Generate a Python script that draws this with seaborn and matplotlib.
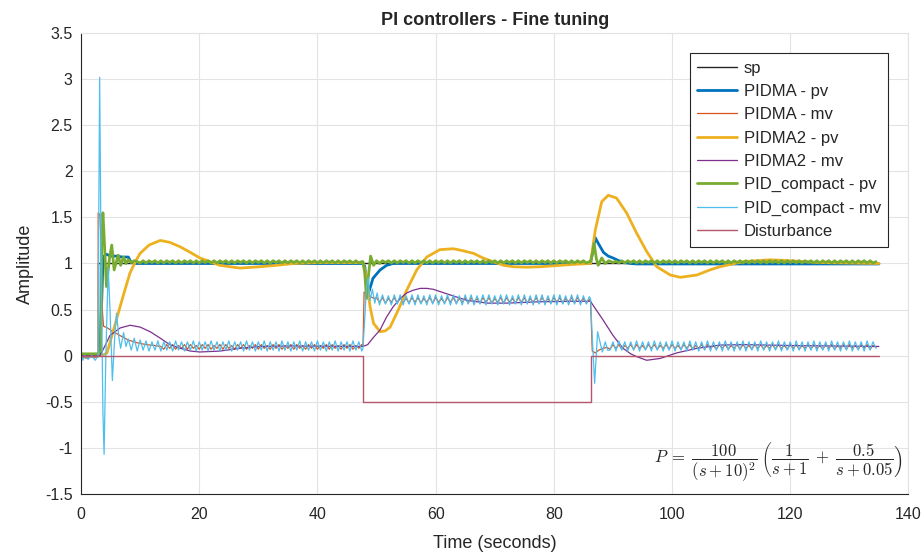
import numpy as np
import pandas as pd
import matplotlib
matplotlib.use("Agg")
import matplotlib.pyplot as plt
import seaborn as sns

# ---- data (time in s, amplitude) ----
sp_pts = [(0, 0.0), (2.9, 0.0), (2.9, 1.0), (135, 1.0)]
dist_pts = [(0, 0.0), (47.7, 0.0), (47.7, -0.5), (86.2, -0.5), (86.2, 0.0), (135, 0.0)]

pidma_pv_pts = [(0, 0.0), (3.2, 0.0), (3.5, 0.6), (3.7, 1.0), (3.9, 1.08), (4.3, 1.1), (5, 1.08),
                (6, 1.08), (7, 1.07), (8, 1.07), (8.4, 1.02), (9, 1.0), (47.7, 1.0), (48.0, 0.97),
                (48.4, 0.75), (48.7, 0.69), (49.4, 0.84), (50.6, 0.93), (51.7, 0.98), (52.8, 1.0),
                (86.2, 1.0), (86.5, 1.1), (87.0, 1.28), (87.5, 1.22), (88.4, 1.12), (89.2, 1.08),
                (90, 1.06), (91, 1.03), (92, 1.01), (93, 1.0), (94, 0.995), (135, 0.995)]

pidma2_pv_pts = [(0, 0.0), (3.5, 0.0), (4.4, 0.03), (5.5, 0.28), (6.6, 0.53), (7.5, 0.73), (8.3, 0.9),
                 (9.2, 1.02), (10, 1.11), (11.5, 1.2), (13.4, 1.25), (15, 1.23), (16.8, 1.18),
                 (18.5, 1.12), (20.1, 1.06), (23.5, 0.98), (26.9, 0.95), (30.3, 0.965), (33, 0.98),
                 (36, 1.0), (40, 1.01), (44, 1.01), (47.7, 1.01), (48.3, 0.85), (48.9, 0.53),
                 (49.5, 0.35), (50.6, 0.26), (51.5, 0.27), (52.3, 0.31), (53.7, 0.5), (55.1, 0.71),
                 (56.8, 0.93), (58.5, 1.07), (60.7, 1.15), (63, 1.16), (64.5, 1.14), (66.4, 1.11),
                 (68, 1.06), (69.7, 1.02), (71.5, 0.98), (73.1, 0.965), (75.5, 0.96), (77.7, 0.965),
                 (80, 0.975), (83.3, 0.99), (86.2, 1.0), (87, 1.36), (88.1, 1.67), (89.2, 1.74),
                 (90.6, 1.71), (92.3, 1.55), (94, 1.33), (95.7, 1.13), (97.4, 0.965), (99.7, 0.875),
                 (101.4, 0.85), (104.2, 0.875), (106.4, 0.93), (108.1, 0.965), (112, 1.02),
                 (116.6, 1.04), (120, 1.03), (125, 1.01), (135, 1.0)]

pidma2_mv_pts = [(0, 0.0), (3.2, 0.0), (4.0, 0.1), (4.9, 0.22), (6.6, 0.30), (8.3, 0.33), (10, 0.31),
                 (11.7, 0.26), (13.4, 0.19), (15, 0.12), (16.8, 0.08), (18.5, 0.05), (20.1, 0.04),
                 (23.5, 0.05), (26.9, 0.08), (30.3, 0.1), (35, 0.105), (47.7, 0.1), (48.5, 0.12),
                 (49.5, 0.2), (50.6, 0.28), (51.7, 0.42), (52.8, 0.53), (54, 0.62), (55.1, 0.68),
                 (56.2, 0.71), (57.4, 0.73), (58.5, 0.73), (59.6, 0.72), (61, 0.69), (62.4, 0.66),
                 (65.3, 0.60), (68.7, 0.57), (72, 0.57), (77.7, 0.585), (83.3, 0.59), (86.2, 0.59),
                 (86.6, 0.55), (88.3, 0.39), (90, 0.22), (91.7, 0.08), (93, 0.02), (94, -0.01),
                 (95.7, -0.05), (98, -0.03), (100.8, 0.03), (104.2, 0.08), (108.1, 0.115),
                 (112, 0.12), (120, 0.11), (135, 0.1)]

# PID_compact pv: transients plus small ripple sampled every 0.5 s
pidc_pv_start = [(0, 0.02), (2.9, 0.02), (3.3, 0.05), (3.5, 1.2), (3.7, 1.55), (3.9, 1.3),
                 (4.3, 0.75), (4.8, 1.05), (5.2, 1.2), (5.6, 0.93), (6.3, 1.09), (6.7, 0.98),
                 (7.2, 1.07), (7.6, 1.0), (8.0, 1.04), (8.5, 1.01), (9, 1.03), (9.5, 1.02)]
pidc_pv_rip_a = [1.005, 1.03, 1.005, 1.03, 1.01, 1.03, 1.005, 1.03, 1.005, 1.03,
                 1.01, 1.03, 1.005, 1.03, 1.005, 1.03, 1.01, 1.03, 1.005, 1.03,
                 1.005, 1.03, 1.01, 1.03, 1.005, 1.03, 1.005, 1.03, 1.01, 1.03,
                 1.005, 1.03, 1.005, 1.03, 1.01, 1.03, 1.005, 1.03, 1.005, 1.03,
                 1.01, 1.03, 1.005, 1.03, 1.005, 1.03, 1.01, 1.03, 1.005, 1.03,
                 1.005, 1.03, 1.01, 1.03, 1.005, 1.03, 1.005, 1.03, 1.01, 1.03,
                 1.005, 1.03, 1.005, 1.03, 1.01, 1.03, 1.005, 1.03, 1.005, 1.03,
                 1.01, 1.03, 1.005, 1.03, 1.005, 1.02]
pidc_pv_mid = [(47.7, 1.02), (48.0, 0.9), (48.3, 0.62), (48.6, 0.85), (49.0, 1.08), (49.5, 0.98),
               (50, 1.03), (50.5, 1.0), (51, 1.03), (51.5, 1.01)]
pidc_pv_rip_b = [1.03, 1.005, 1.03, 1.005, 1.03, 1.01, 1.03, 1.005, 1.03, 1.005,
                 1.03, 1.01, 1.03, 1.005, 1.03, 1.005, 1.03, 1.01, 1.03, 1.005,
                 1.03, 1.005, 1.03, 1.01, 1.03, 1.005, 1.03, 1.005, 1.03, 1.01,
                 1.03, 1.005, 1.03, 1.005, 1.03, 1.01, 1.03, 1.005, 1.03, 1.005,
                 1.03, 1.01, 1.03, 1.005, 1.03, 1.005, 1.03, 1.01, 1.03, 1.005,
                 1.03, 1.005, 1.03, 1.01, 1.03, 1.005, 1.03, 1.005, 1.03, 1.01,
                 1.03, 1.005, 1.03, 1.005, 1.03, 1.01, 1.03, 1.005, 1.02]
pidc_pv_end = [(86.2, 1.02), (86.5, 1.1), (86.8, 1.22), (87.2, 1.05), (87.5, 0.98), (88.1, 1.06),
               (88.7, 1.0), (89.3, 1.03), (90, 1.01), (90.5, 1.025)]
pidc_pv_rip_c = [1.005, 1.03, 1.005, 1.03, 1.01, 1.03, 1.005, 1.03, 1.005, 1.03,
                 1.01, 1.03, 1.005, 1.03, 1.005, 1.03, 1.01, 1.03, 1.005, 1.03,
                 1.005, 1.03, 1.01, 1.03, 1.005, 1.03, 1.005, 1.03, 1.01, 1.03,
                 1.005, 1.03, 1.005, 1.03, 1.01, 1.03, 1.005, 1.03, 1.005, 1.03,
                 1.01, 1.03, 1.005, 1.03, 1.005, 1.03, 1.01, 1.03, 1.005, 1.03,
                 1.005, 1.03, 1.01, 1.03, 1.005, 1.03, 1.005, 1.03, 1.01, 1.03,
                 1.005, 1.03, 1.005, 1.03, 1.01, 1.03, 1.005, 1.03, 1.005, 1.03,
                 1.01, 1.03, 1.005, 1.03, 1.005, 1.03, 1.01, 1.03, 1.005, 1.03,
                 1.005, 1.03, 1.01, 1.03, 1.005, 1.03, 1.005, 1.02]

# PIDMA mv: transients plus ripple segments sampled every 0.5 s
pidma_mv_start = [(0, -0.01), (1, -0.03), (1.5, 0.0), (2, -0.02), (2.9, -0.01), (2.9, 1.55),
                  (3.2, 1.52), (3.4, 1.2), (3.6, 0.5), (3.8, 0.32), (4.5, 0.3), (5.4, 0.26),
                  (6, 0.24), (7.1, 0.2), (8, 0.17), (9.5, 0.14), (11, 0.12), (12.5, 0.11), (13.5, 0.1)]
pidma_mv_rip_a = [0.07, 0.12, 0.08, 0.12, 0.07, 0.11, 0.08, 0.12, 0.07, 0.12,
                  0.08, 0.11, 0.07, 0.12, 0.08, 0.12, 0.07, 0.11, 0.08, 0.12,
                  0.07, 0.12, 0.08, 0.11, 0.07, 0.12, 0.08, 0.12, 0.07, 0.11,
                  0.08, 0.12, 0.07, 0.12, 0.08, 0.11, 0.07, 0.12, 0.08, 0.12,
                  0.07, 0.11, 0.08, 0.12, 0.07, 0.12, 0.08, 0.11, 0.07, 0.12,
                  0.08, 0.12, 0.07, 0.11, 0.08, 0.12, 0.07, 0.12, 0.08, 0.11,
                  0.07, 0.12, 0.08, 0.12, 0.07, 0.11, 0.08, 0.12]
pidma_mv_mid = [(47.7, 0.1), (47.9, 0.69), (48.4, 0.66), (49, 0.64), (49.6, 0.62), (50.0, 0.63)]
pidma_mv_rip_b = [0.58, 0.63, 0.57, 0.62, 0.58, 0.63, 0.57, 0.63, 0.58, 0.62,
                  0.57, 0.63, 0.58, 0.63, 0.57, 0.62, 0.58, 0.63, 0.57, 0.63,
                  0.58, 0.62, 0.57, 0.63, 0.58, 0.63, 0.57, 0.62, 0.58, 0.63,
                  0.57, 0.63, 0.58, 0.62, 0.57, 0.63, 0.58, 0.63, 0.57, 0.62,
                  0.58, 0.63, 0.57, 0.63, 0.58, 0.62, 0.57, 0.63, 0.58, 0.63,
                  0.57, 0.62, 0.58, 0.63, 0.57, 0.63, 0.58, 0.62, 0.57, 0.63,
                  0.58, 0.63, 0.57, 0.62, 0.58, 0.63, 0.57, 0.63, 0.58, 0.62,
                  0.57, 0.61]
pidma_mv_end = [(86.2, 0.6), (86.5, 0.05), (87.0, 0.03), (87.6, 0.06), (88.3, 0.08), (89.0, 0.09)]
pidma_mv_rip_c = [0.07, 0.12, 0.08, 0.12, 0.07, 0.11, 0.08, 0.12, 0.07, 0.12,
                  0.08, 0.11, 0.07, 0.12, 0.08, 0.12, 0.07, 0.11, 0.08, 0.12,
                  0.07, 0.12, 0.08, 0.11, 0.07, 0.12, 0.08, 0.12, 0.07, 0.11,
                  0.08, 0.12, 0.07, 0.12, 0.08, 0.11, 0.07, 0.12, 0.08, 0.12,
                  0.07, 0.11, 0.08, 0.12, 0.07, 0.12, 0.08, 0.11, 0.07, 0.12,
                  0.08, 0.12, 0.07, 0.11, 0.08, 0.12, 0.07, 0.12, 0.08, 0.11,
                  0.07, 0.12, 0.08, 0.12, 0.07, 0.11, 0.08, 0.12, 0.07, 0.12,
                  0.08, 0.11, 0.07, 0.12, 0.08, 0.12, 0.07, 0.11, 0.08, 0.12,
                  0.07, 0.12, 0.08, 0.11, 0.07, 0.12, 0.08, 0.12, 0.07, 0.11,
                  0.09]

# PID_compact mv
pidc_mv_start = [(0, 0.0), (0.3, -0.05), (0.6, 0.0), (1.2, -0.04), (1.8, 0.0), (2.4, -0.05),
                 (2.9, 0.0), (3.0, 1.5), (3.15, 3.02), (3.4, 1.0), (3.7, -0.6), (3.9, -1.07),
                 (4.2, 0.0), (4.6, 0.95), (4.9, 0.5), (5.3, -0.27), (5.7, 0.2), (6.0, 0.46),
                 (6.4, 0.2), (6.7, 0.08), (7.2, 0.25), (7.6, 0.1), (8.0, 0.18)]
pidc_mv_rip_a = [0.06, 0.19, 0.05, 0.17, 0.06, 0.16, 0.05, 0.15, 0.06, 0.16,
                 0.05, 0.15, 0.06, 0.15, 0.05, 0.16, 0.06, 0.15, 0.05, 0.15,
                 0.06, 0.16, 0.05, 0.15, 0.06, 0.15, 0.05, 0.16, 0.06, 0.15,
                 0.05, 0.15, 0.06, 0.16, 0.05, 0.15, 0.06, 0.15, 0.05, 0.16,
                 0.06, 0.15, 0.05, 0.15, 0.06, 0.16, 0.05, 0.15, 0.06, 0.15,
                 0.05, 0.16, 0.06, 0.15, 0.05, 0.15, 0.06, 0.16, 0.05, 0.15,
                 0.06, 0.15, 0.05, 0.16, 0.06, 0.15, 0.05, 0.15, 0.06, 0.16,
                 0.05, 0.15, 0.06, 0.15, 0.05, 0.16, 0.06, 0.15, 0.05]
pidc_mv_mid = [(47.7, 0.08), (48.0, 0.4), (48.3, 0.75), (48.6, 0.85), (48.9, 0.6), (49.3, 0.72),
               (49.7, 0.57), (50.1, 0.68)]
pidc_mv_rip_b = [0.55, 0.66, 0.56, 0.65, 0.55, 0.66, 0.56, 0.66, 0.55, 0.65,
                 0.56, 0.66, 0.55, 0.66, 0.56, 0.65, 0.55, 0.66, 0.56, 0.66,
                 0.55, 0.65, 0.56, 0.66, 0.55, 0.66, 0.56, 0.65, 0.55, 0.66,
                 0.56, 0.66, 0.55, 0.65, 0.56, 0.66, 0.55, 0.66, 0.56, 0.65,
                 0.55, 0.66, 0.56, 0.66, 0.55, 0.65, 0.56, 0.66, 0.55, 0.66,
                 0.56, 0.65, 0.55, 0.66, 0.56, 0.66, 0.55, 0.65, 0.56, 0.66,
                 0.55, 0.66, 0.56, 0.65, 0.55, 0.66, 0.56, 0.66, 0.55, 0.65,
                 0.56, 0.64]
pidc_mv_end = [(86.2, 0.62), (86.5, 0.2), (86.9, -0.3), (87.4, 0.26), (88.2, 0.04), (88.7, 0.15),
               (89.1, 0.06)]
pidc_mv_rip_c = [0.06, 0.15, 0.05, 0.16, 0.06, 0.15, 0.05, 0.15, 0.06, 0.16,
                 0.05, 0.15, 0.06, 0.15, 0.05, 0.16, 0.06, 0.15, 0.05, 0.15,
                 0.06, 0.16, 0.05, 0.15, 0.06, 0.15, 0.05, 0.16, 0.06, 0.15,
                 0.05, 0.15, 0.06, 0.16, 0.05, 0.15, 0.06, 0.15, 0.05, 0.16,
                 0.06, 0.15, 0.05, 0.15, 0.06, 0.16, 0.05, 0.15, 0.06, 0.15,
                 0.05, 0.16, 0.06, 0.15, 0.05, 0.15, 0.06, 0.16, 0.05, 0.15,
                 0.06, 0.15, 0.05, 0.16, 0.06, 0.15, 0.05, 0.15, 0.06, 0.16,
                 0.05, 0.15, 0.06, 0.15, 0.05, 0.16, 0.06, 0.15, 0.05, 0.15,
                 0.06, 0.16, 0.05, 0.15, 0.06, 0.15, 0.05, 0.16, 0.06, 0.15,
                 0.08]

RIP_STEP = 0.5
x_ticks = [0, 20, 40, 60, 80, 100, 120, 140]
y_ticks = [-1.5, -1, -0.5, 0, 0.5, 1, 1.5, 2, 2.5, 3, 3.5]
y_tick_labels = ["-1.5", "-1", "-0.5", "0", "0.5", "1", "1.5", "2", "2.5", "3", "3.5"]


def pts(p):
    return [a for a, _ in p], [b for _, b in p]


def ripple(start, vals):
    return list(start + RIP_STEP * np.arange(len(vals))), list(vals)


def join(*parts):
    t, y = [], []
    for pt, py in parts:
        t += list(pt)
        y += list(py)
    return t, y


pidc_pv = join(pts(pidc_pv_start), ripple(10.0, pidc_pv_rip_a), pts(pidc_pv_mid),
               ripple(52.0, pidc_pv_rip_b), pts(pidc_pv_end), ripple(91.0, pidc_pv_rip_c))
pidma_mv = join(pts(pidma_mv_start), ripple(14.0, pidma_mv_rip_a), pts(pidma_mv_mid),
                ripple(50.5, pidma_mv_rip_b), pts(pidma_mv_end), ripple(89.5, pidma_mv_rip_c))
pidc_mv = join(pts(pidc_mv_start), ripple(8.5, pidc_mv_rip_a), pts(pidc_mv_mid),
               ripple(50.5, pidc_mv_rip_b), pts(pidc_mv_end), ripple(89.5, pidc_mv_rip_c))

series = [
    ("sp", pts(sp_pts), "#262626", 1.0),
    ("PIDMA - pv", pts(pidma_pv_pts), "#0072BD", 2.0),
    ("PIDMA - mv", pidma_mv, "#D95319", 0.9),
    ("PIDMA2 - pv", pts(pidma2_pv_pts), "#EDB120", 2.0),
    ("PIDMA2 - mv", pts(pidma2_mv_pts), "#7E2F8E", 0.9),
    ("PID_compact - pv", pidc_pv, "#77AC30", 2.0),
    ("PID_compact - mv", pidc_mv, "#4DBEEE", 0.9),
    ("Disturbance", pts(dist_pts), "#B5566B", 1.0),
]

sns.set_theme(style="whitegrid")
plt.rcParams["font.family"] = ["Liberation Sans", "DejaVu Sans"]
plt.rcParams["mathtext.fontset"] = "cm"

fig = plt.figure(figsize=(9.24, 5.55), dpi=100)
ax = fig.add_axes([0.0877, 0.110, 0.8955, 0.8305])

for name, (t, y), col, lw in series:
    df = pd.DataFrame({"t": t, "y": y})
    sns.lineplot(data=df, x="t", y="y", ax=ax, color=col, linewidth=lw, label=name,
                 estimator=None, sort=False)

ax.set_xlim(0, 140)
ax.set_ylim(-1.5, 3.5)
ax.set_xticks(x_ticks)
ax.set_xticklabels([str(v) for v in x_ticks])
ax.set_yticks(y_ticks)
ax.set_yticklabels(y_tick_labels)
ax.tick_params(direction="in", length=5, width=0.8, labelsize=11.5, colors="#262626")
ax.tick_params(axis="x", pad=9.5)
ax.tick_params(axis="y", pad=6)
ax.grid(True, color="#e3e3e3", linewidth=0.8)
ax.set_facecolor("white")
for s in ["left", "bottom"]:
    ax.spines[s].set_color("#262626")
    ax.spines[s].set_linewidth(0.8)
for s in ["top", "right"]:
    ax.spines[s].set_color("#e3e3e3")
    ax.spines[s].set_linewidth(0.8)

ax.set_title("PI controllers - Fine tuning", fontsize=13, fontweight="bold", pad=6)
ax.set_xlabel("Time (seconds)", fontsize=13, labelpad=9)
ax.set_ylabel("Amplitude", fontsize=13, labelpad=8)

leg = ax.legend(loc="upper right", bbox_to_anchor=(0.9758, 0.9566), borderaxespad=0,
                fontsize=12, labelspacing=0.5, handlelength=2.4, handletextpad=0.4,
                fancybox=False, framealpha=1, edgecolor="#262626", borderpad=0.45)
leg.get_frame().set_linewidth(0.8)

ax.text(0.993, 0.069,
        r"$P\;=\;\dfrac{100}{(s+10)^2}\;\left(\dfrac{1}{s+1}\;+\;\dfrac{0.5}{s+0.05}\right)$",
        transform=ax.transAxes, ha="right", va="center", fontsize=12)

fig.savefig("out.png", dpi=100)
